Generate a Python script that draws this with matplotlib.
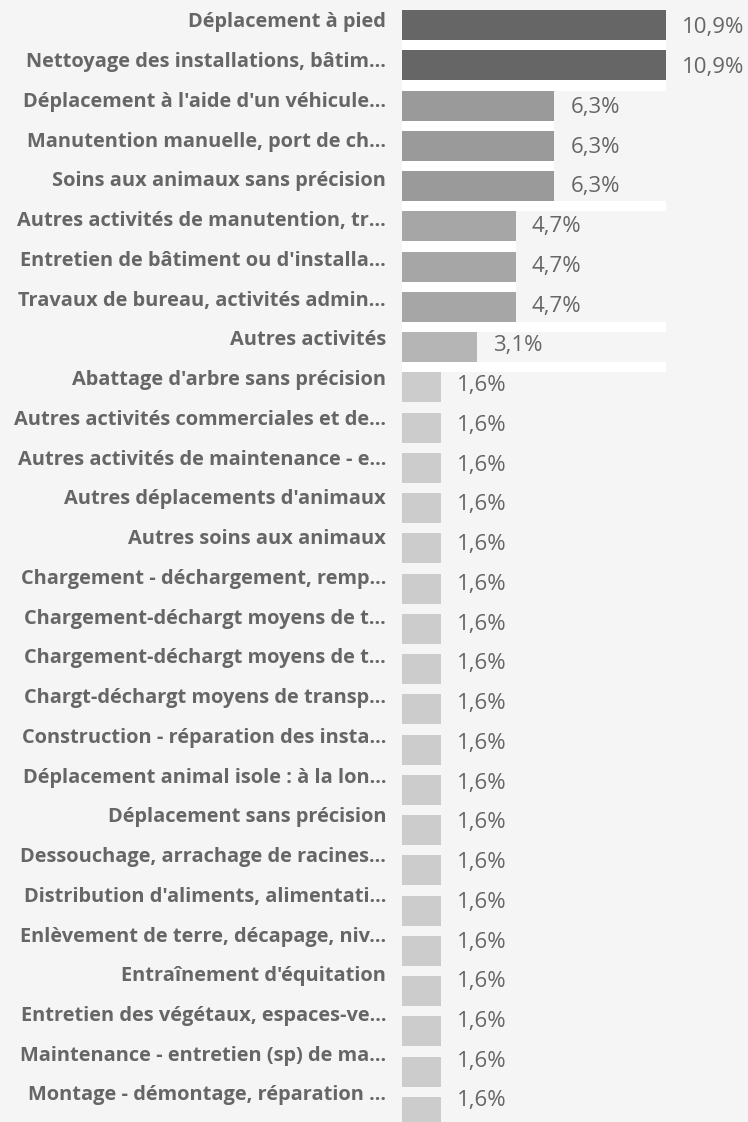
import matplotlib
matplotlib.use("Agg")
import matplotlib.pyplot as plt
import matplotlib.transforms as mtransforms

categories = [
    "Déplacement à pied",
    "Nettoyage des installations, bâtim...",
    "Déplacement à l'aide d'un véhicule...",
    "Manutention manuelle, port de ch...",
    "Soins aux animaux sans précision",
    "Autres activités de manutention, tr...",
    "Entretien de bâtiment ou d'installa...",
    "Travaux de bureau, activités admin...",
    "Autres activités",
    "Abattage d'arbre sans précision",
    "Autres activités commerciales et de...",
    "Autres activités de maintenance - e...",
    "Autres déplacements d'animaux",
    "Autres soins aux animaux",
    "Chargement - déchargement, remp...",
    "Chargement-déchargt moyens de t...",
    "Chargement-déchargt moyens de t...",
    "Chargt-déchargt moyens de transp...",
    "Construction - réparation des insta...",
    "Déplacement animal isole : à la lon...",
    "Déplacement sans précision",
    "Dessouchage, arrachage de racines...",
    "Distribution d'aliments, alimentati...",
    "Enlèvement de terre, décapage, niv...",
    "Entraînement d'équitation",
    "Entretien des végétaux, espaces-ve...",
    "Maintenance - entretien (sp) de ma...",
    "Montage - démontage, réparation ...",
]
values = [10.9, 10.9, 6.3, 6.3, 6.3, 4.7, 4.7, 4.7, 3.1] + [1.6] * 19
value_labels = ["10,9%", "10,9%", "6,3%", "6,3%", "6,3%", "4,7%", "4,7%", "4,7%", "3,1%"] + ["1,6%"] * 19
shade_by_value = {10.9: "#666666", 6.3: "#9a9a9a", 4.7: "#a6a6a6", 3.1: "#b5b5b5", 1.6: "#cccccc"}

BG = "#f5f5f5"
TXT = "#666666"
W, H, DPI = 748, 1122, 100

fig = plt.figure(figsize=(W / DPI, H / DPI), dpi=DPI, facecolor=BG)

x0_px = 402
px_per_unit = 24.2
xmax = (W - x0_px) / px_per_unit

# Bars axes
bar_pitch = 40.25
bar_c0 = 25
ax = fig.add_axes([x0_px / W, 0, (W - x0_px) / W, 1])
ax.set_facecolor("none")
ax.set_xlim(0, xmax)
ax.set_ylim((H - bar_c0) / bar_pitch, -bar_c0 / bar_pitch)
bh = 30 / bar_pitch
n = len(values)
ypos = list(range(n))
vmax = max(values)
vmin = min(values)

# white separator bands between the larger bars
gap_y, gap_w = [], []
for i in range(n - 1):
    if values[i] > vmin:
        gap_y.append(i + 0.5)
        gap_w.append(values[i] if values[i + 1] == values[i] else vmax)
ax.barh(gap_y, gap_w, height=1 - bh, color="white", zorder=1)

ax.barh(ypos, values, height=bh, color=[shade_by_value[v] for v in values], zorder=2)
ax.axis("off")

# Labels axes (slightly different row pitch)
lab_pitch = 39.74
lab_c0 = 20
lax = fig.add_axes([x0_px / W, 0, (W - x0_px) / W, 1])
lax.set_facecolor("none")
lax.set_xlim(0, xmax)
lax.set_ylim((H - lab_c0) / lab_pitch, -lab_c0 / lab_pitch)
lax.set_yticks(ypos)
lax.set_yticklabels(categories, fontsize=14.4, fontweight="bold", color=TXT, family="Open Sans")
lax.tick_params(axis="y", length=0, pad=11.5)
lax.set_xticks([])
for s in lax.spines.values():
    s.set_visible(False)

offset = mtransforms.ScaledTranslation(16 / DPI, -8 / DPI, fig.dpi_scale_trans)
for i, (v, t) in enumerate(zip(values, value_labels)):
    lax.text(v, i, t, transform=lax.transData + offset, va="center", ha="left",
             fontsize=16, color=TXT, family="Open Sans", clip_on=False)

fig.savefig("out.png", dpi=DPI, facecolor=BG)
